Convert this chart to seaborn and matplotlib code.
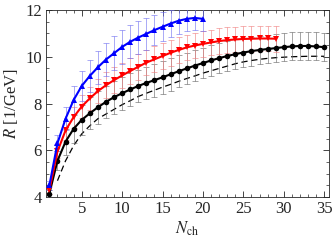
import numpy as np
import pandas as pd
import seaborn as sns
import matplotlib.pyplot as plt
from matplotlib.ticker import MultipleLocator

## values
n_blue = list(range(1, 21))
r_blue = [4.5, 6.3, 7.35, 8.15, 8.75, 9.18, 9.55, 9.88, 10.15, 10.42,
          10.64, 10.82, 10.98, 11.14, 11.28, 11.42, 11.54, 11.62, 11.66, 11.62]
e_blue = [0.2, 0.35, 0.5, 0.6, 0.65, 0.7, 0.7, 0.72, 0.72, 0.72,
          0.7, 0.7, 0.68, 0.65, 0.62, 0.58, 0.55, 0.5, 0.5, 0.5]

n_red = list(range(1, 30))
r_red = [4.3, 5.95, 6.85, 7.42, 7.87, 8.22, 8.53, 8.78, 9.0, 9.2,
         9.39, 9.57, 9.75, 9.89, 10.03, 10.17, 10.29, 10.4, 10.48, 10.55,
         10.61, 10.67, 10.71, 10.74, 10.76, 10.77, 10.78, 10.78, 10.77]
e_red = [0.15, 0.3, 0.4, 0.45, 0.5, 0.5, 0.52, 0.55, 0.55, 0.55,
         0.55, 0.55, 0.55, 0.55, 0.55, 0.55, 0.55, 0.55, 0.55, 0.55,
         0.55, 0.55, 0.55, 0.55, 0.55, 0.55, 0.55, 0.55, 0.55]

n_black = list(range(1, 36))
r_black = [4.15, 5.55, 6.37, 6.92, 7.3, 7.58, 7.84, 8.07, 8.27, 8.44,
           8.6, 8.75, 8.88, 9.0, 9.12, 9.25, 9.38, 9.5, 9.62, 9.73,
           9.84, 9.94, 10.03, 10.11, 10.18, 10.24, 10.29, 10.33, 10.37, 10.41,
           10.44, 10.46, 10.46, 10.44, 10.41]
e_black = [0.15, 0.4, 0.55, 0.6, 0.65, 0.68, 0.7, 0.7, 0.7, 0.7,
           0.7, 0.7, 0.7, 0.7, 0.7, 0.7, 0.68, 0.68, 0.66, 0.66,
           0.65, 0.65, 0.64, 0.63, 0.62, 0.62, 0.61, 0.6, 0.6, 0.6,
           0.6, 0.6, 0.6, 0.6, 0.6]

n_dash = list(range(2, 36))
r_dash = [4.7, 5.55, 6.2, 6.7, 7.05, 7.35, 7.55, 7.75, 7.95, 8.12,
          8.3, 8.44, 8.57, 8.7, 8.82, 8.95, 9.07, 9.18, 9.3, 9.4,
          9.5, 9.6, 9.7, 9.78, 9.84, 9.89, 9.93, 9.96, 9.98, 10.0,
          10.01, 10.02, 10.02, 10.02]

sns.set_style("ticks")
plt.rcParams['font.family'] = ['Liberation Serif', 'DejaVu Serif']
plt.rcParams['mathtext.fontset'] = 'stix'

fig = plt.figure(figsize=(3.32, 2.43), dpi=100)
ax = fig.add_axes([0.139, 0.189, 0.852, 0.770])

## dashed reference curve
dash = pd.DataFrame({'N': n_dash, 'R': r_dash})
sns.lineplot(data=dash, x='N', y='R', ax=ax, color='black', lw=0.9,
             linestyle=(0, (5, 3)), zorder=2)

series = [
    (n_black, r_black, e_black, 'black', 'o', '#666666'),
    (n_red, r_red, e_red, 'red', 'v', '#f08080'),
    (n_blue, r_blue, e_blue, 'blue', '^', '#7070f0'),
]
for n, r, e, col, mk, ecol in series:
    ax.errorbar(n, r, yerr=e, fmt='none', ecolor=ecol, elinewidth=0.6,
                capsize=2, capthick=0.6, alpha=0.7, zorder=3)
    df = pd.DataFrame({'N': n, 'R': r})
    sns.lineplot(data=df, x='N', y='R', ax=ax, color=col, lw=1.5,
                 marker=mk, markersize=4, markeredgewidth=0, zorder=4)

ax.set_xlim(0.6, 35.6)
ax.set_ylim(4, 12)
ax.xaxis.set_major_locator(MultipleLocator(5))
ax.xaxis.set_minor_locator(MultipleLocator(1))
ax.yaxis.set_major_locator(MultipleLocator(2))
ax.yaxis.set_minor_locator(MultipleLocator(0.5))
ax.tick_params(which='both', direction='in', top=True, right=True,
               labelsize=12, pad=3)
ax.tick_params(which='major', length=4, width=0.6)
ax.tick_params(which='minor', length=2, width=0.5)
for s in ax.spines.values():
    s.set_linewidth(0.6)

ax.set_xlabel(r'$N_{\mathrm{ch}}$', fontsize=12, labelpad=2)
ax.set_ylabel(r'$R$ [1/GeV]', fontsize=12, labelpad=4)

plt.savefig('out.png', dpi=100)
plt.close()
